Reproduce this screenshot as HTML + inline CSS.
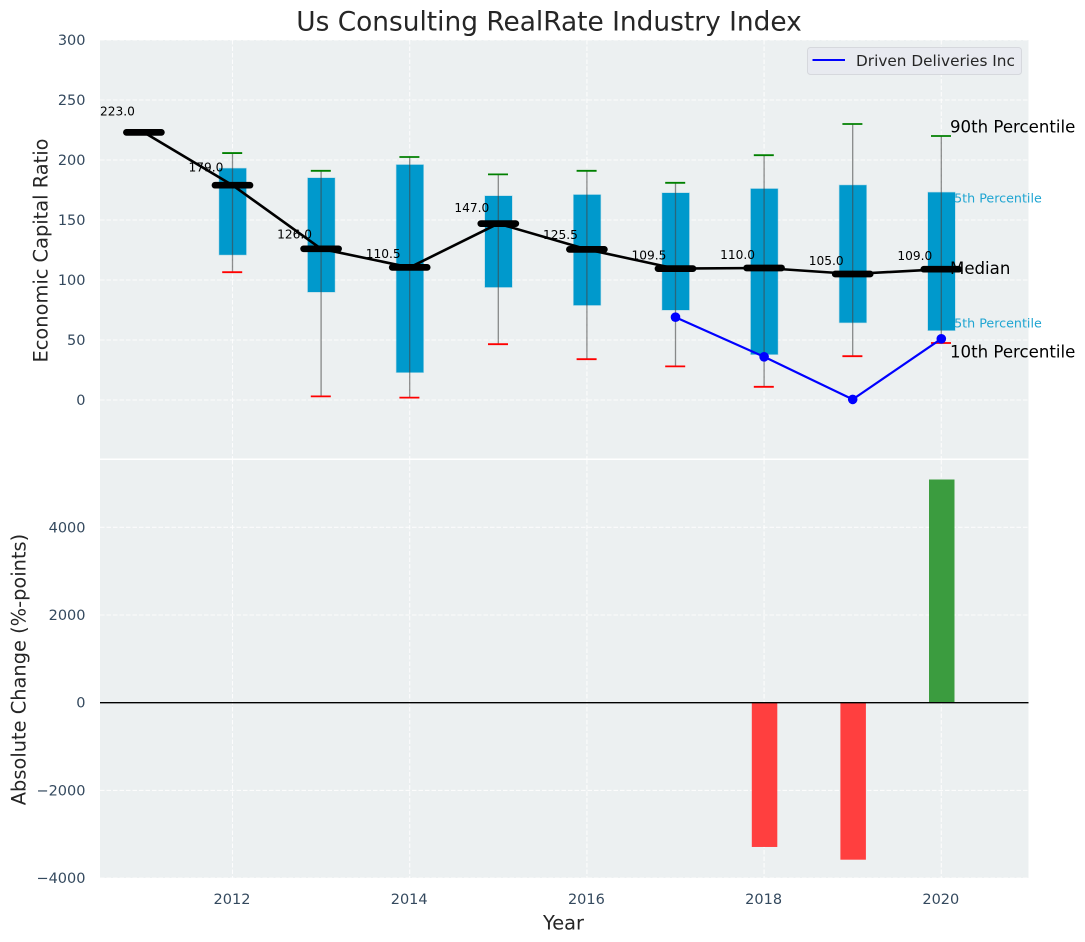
<!DOCTYPE html>
<html>
<head>
<meta charset="utf-8">
<title>Us Consulting RealRate Industry Index</title>
<style>
html,body{margin:0;padding:0;background:#fff;width:1085px;height:942px;overflow:hidden}
svg{display:block;font-family:"DejaVu Sans","Liberation Sans",sans-serif}
</style>
</head>
<body>
<svg id="chart" xmlns="http://www.w3.org/2000/svg" width="1085" height="942" viewBox="0 0 1085 942"></svg>
<script>
const years = [2011, 2012, 2013, 2014, 2015, 2016, 2017, 2018, 2019, 2020];
const medians = [223, 179, 126, 110.5, 147, 125.5, 109.5, 110, 105, 109];
const p90 = [null, 205.8, 191, 202.5, 188, 191, 181, 204, 230, 220];
const p75 = [null, 193, 185, 196, 170, 171, 172.5, 176, 179, 173];
const p25 = [null, 121, 90, 23, 94, 79, 75, 38, 64.5, 58];
const p10 = [null, 106.5, 3, 2, 46.5, 34, 28, 11, 36.5, 47.5];
const companyYears = [2017, 2018, 2019, 2020];
const companyValues = [69, 36, 0.5, 51];
const changeYears = [2018, 2019, 2020];
const changeValues = [-3290, -3580, 5090];
const topTicks = [0, 50, 100, 150, 200, 250, 300];
const bottomTicks = [-4000, -2000, 0, 2000, 4000];
const xTicks = [2012, 2014, 2016, 2018, 2020];

const svg = document.getElementById('chart');
const L = 100, R = 1028.5, T1 = 40, B1 = 458.5, T2 = 460, B2 = 878;
const x = v => 232.5 + (v - 2012) * 88.6;
const yTop = v => 400 - v * 1.2;
const yBot = v => 702.7 - v * 0.04385;
const NS = 'http://www.w3.org/2000/svg';
function add(tag, attrs, text) {
  const e = document.createElementNS(NS, tag);
  for (const k in attrs) e.setAttribute(k, attrs[k]);
  if (text !== undefined) e.textContent = text;
  svg.appendChild(e);
  return e;
}
function name(e, n) {
  
  
  return e;
}
const gridStyle = {stroke: '#fff', 'stroke-width': 1.1, 'stroke-dasharray': '4.5 2', opacity: 0.85};
const tickColor = '#34495e';
const tickSize = 14.5;
const minusText = v => String(v).replace('-', '\u2212');

/* panels */
let el;
el = add('rect', {x: L, y: T1, width: R - L, height: B1 - T1, fill: '#ecf0f1'});
name(el, 'top-panel-background');
el = add('rect', {x: L, y: T2, width: R - L, height: B2 - T2, fill: '#ecf0f1'});
name(el, 'bottom-panel-background');

/* grid */
topTicks.forEach(t => {
  const g = add('line', Object.assign({x1: L, x2: R, y1: yTop(t), y2: yTop(t)}, gridStyle));
  
  
  const l = add('text', {x: 85.5, y: yTop(t) + 1, 'text-anchor': 'end', 'dominant-baseline': 'central', 'font-size': tickSize, fill: tickColor}, minusText(t));
  
  
});
bottomTicks.forEach(t => {
  const g = add('line', Object.assign({x1: L, x2: R, y1: yBot(t), y2: yBot(t)}, gridStyle));
  
  
  const l = add('text', {x: 85.5, y: yBot(t) + 1, 'text-anchor': 'end', 'dominant-baseline': 'central', 'font-size': tickSize, fill: tickColor}, minusText(t));
  
  
});
xTicks.forEach(t => {
  const g1 = add('line', Object.assign({x1: x(t), x2: x(t), y1: T1, y2: B1}, gridStyle));
  
  
  const g2 = add('line', Object.assign({x1: x(t), x2: x(t), y1: T2, y2: B2}, gridStyle));
  
  
  const l = add('text', {x: x(t) - 0.5, y: 900, 'text-anchor': 'middle', 'dominant-baseline': 'central', 'font-size': tickSize, fill: tickColor}, t);
  
  
});

/* side annotations that sit behind the boxes */
el = add('text', {x: 946, y: 198, 'dominant-baseline': 'central', 'font-size': 12.7, fill: '#1fa5d2'}, '75th Percentile');
name(el, 'p75-annotation');
el = add('text', {x: 946, y: 323, 'dominant-baseline': 'central', 'font-size': 12.7, fill: '#1fa5d2'}, '25th Percentile');
name(el, 'p25-annotation');

/* boxes */
years.forEach((yr, i) => {
  if (p75[i] === null) return;
  const b = add('rect', {x: x(yr) - 13.3, y: yTop(p75[i]), width: 27, height: yTop(p25[i]) - yTop(p75[i]), fill: '#0099cc', stroke: '#0099cc', 'stroke-opacity': 0.25, 'stroke-width': 1.2});
  
  
});
/* whiskers and caps */
years.forEach((yr, i) => {
  if (p90[i] === null) return;
  const w = add('line', {x1: x(yr), x2: x(yr), y1: yTop(p90[i]), y2: yTop(p10[i]), stroke: '#444', 'stroke-opacity': 0.6, 'stroke-width': 1.3});
  
  
  const c1 = add('line', {x1: x(yr) - 10.3, x2: x(yr) + 9.7, y1: yTop(p90[i]), y2: yTop(p90[i]), stroke: '#008000', 'stroke-width': 1.8});
  
  
  const c2 = add('line', {x1: x(yr) - 10.3, x2: x(yr) + 9.7, y1: yTop(p10[i]), y2: yTop(p10[i]), stroke: '#ff0000', 'stroke-width': 1.8});
  
  
});

el = add('text', {x: 950, y: 268.5, 'dominant-baseline': 'central', 'font-size': 16.6, fill: '#000'}, 'Median');
name(el, 'median-annotation');

/* median line */
el = add('polyline', {points: years.map((yr, i) => x(yr) + ',' + yTop(medians[i])).join(' '), fill: 'none', stroke: '#000', 'stroke-width': 2.6, 'stroke-linejoin': 'round'});
name(el, 'median-line');
years.forEach((yr, i) => {
  const m = add('line', {x1: x(yr) - 17.5, x2: x(yr) + 17.5, y1: yTop(medians[i]), y2: yTop(medians[i]), stroke: '#000', 'stroke-width': 6.7, 'stroke-linecap': 'round'});
  
  
});
years.forEach((yr, i) => {
  const t = add('text', {x: x(yr) - 26.5, y: yTop(medians[i] * 1.057 + 4) - 0.8, 'text-anchor': 'middle', 'dominant-baseline': 'central', 'font-size': 12.2, fill: '#000'}, medians[i].toFixed(1));
  
  
});

/* company line */
el = add('polyline', {points: companyYears.map((yr, i) => x(yr) + ',' + yTop(companyValues[i])).join(' '), fill: 'none', stroke: '#0000ff', 'stroke-width': 2.2});
name(el, 'company-line');
companyYears.forEach((yr, i) => {
  const p = add('circle', {cx: x(yr), cy: yTop(companyValues[i]), r: 4.8, fill: '#0000ff'});
  
  
});

/* bars */
changeYears.forEach((yr, i) => {
  const v = changeValues[i];
  const b = add('rect', {x: x(yr) - 12.3, y: Math.min(yBot(v), yBot(0)), width: 25.5, height: Math.abs(yBot(v) - yBot(0)), fill: v < 0 ? '#ff3f3f' : '#3b9c3f'});
  
  
});
el = add('line', {x1: L, x2: R, y1: yBot(0), y2: yBot(0), stroke: '#000', 'stroke-width': 1.3});
name(el, 'zero-line');

/* annotations */
el = add('text', {x: 950, y: 127, 'dominant-baseline': 'central', 'font-size': 16.6, fill: '#000'}, '90th Percentile');
name(el, 'p90-annotation');
el = add('text', {x: 950, y: 352, 'dominant-baseline': 'central', 'font-size': 16.6, fill: '#000'}, '10th Percentile');
name(el, 'p10-annotation');

/* titles */
el = add('text', {x: 549, y: 22, 'text-anchor': 'middle', 'dominant-baseline': 'central', 'font-size': 26.4, fill: '#262626'}, 'Us Consulting RealRate Industry Index');
name(el, 'chart-title');
el = add('text', {x: 0, y: 0, transform: 'translate(41,250.5) rotate(-90)', 'text-anchor': 'middle', 'dominant-baseline': 'central', 'font-size': 19.4, fill: '#262626'}, 'Economic Capital Ratio');
name(el, 'top-y-axis-title');
el = add('text', {x: 0, y: 0, transform: 'translate(19,669.5) rotate(-90)', 'text-anchor': 'middle', 'dominant-baseline': 'central', 'font-size': 19.4, fill: '#262626'}, 'Absolute Change (%-points)');
name(el, 'bottom-y-axis-title');
el = add('text', {x: 563.5, y: 923, 'text-anchor': 'middle', 'dominant-baseline': 'central', 'font-size': 19.4, fill: '#262626'}, 'Year');
name(el, 'x-axis-title');

/* legend */
el = add('rect', {x: 807.5, y: 47.5, width: 214, height: 27, rx: 3, fill: '#e8eaf0', stroke: '#d6d8dd', 'stroke-width': 1});
name(el, 'legend-box');
el = add('line', {x1: 812.5, x2: 845, y1: 60, y2: 60, stroke: '#0000ff', 'stroke-width': 2});
name(el, 'legend-line');
el = add('text', {x: 856, y: 61, 'dominant-baseline': 'central', 'font-size': 15.3, fill: '#262626'}, 'Driven Deliveries Inc');
name(el, 'legend-label');
</script>
</body>
</html>
